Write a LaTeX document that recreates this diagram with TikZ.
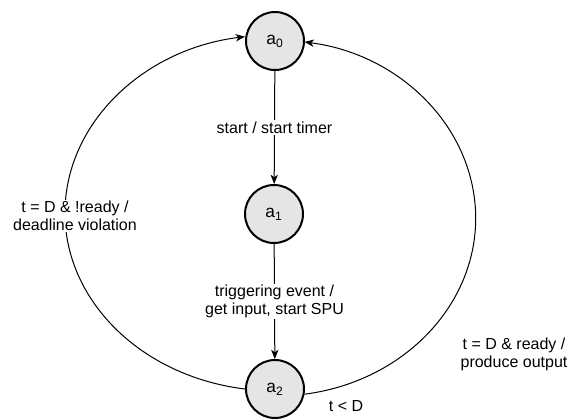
\documentclass[tikz,border=0pt]{standalone}
\usepackage{fontspec}
\setmainfont{Liberation Sans}
\usetikzlibrary{arrows.meta}
\begin{document}
\begin{tikzpicture}[x=0.75pt,y=-0.75pt,
  state/.style={circle,draw=black,line width=1.5pt,fill=black!10,minimum size=43.5pt,inner sep=0pt,font=\fontsize{13}{15}\selectfont},
  edge/.style={line width=0.75pt,-{Stealth[length=7pt,width=5.5pt,inset=2pt]}},
  lbl/.style={font=\fontsize{12}{13.5}\selectfont,align=center,inner sep=1pt},
  lblw/.style={lbl,fill=white}]
\useasboundingbox (0,0) rectangle (568,418);
\node[state] (a0) at (275,41) {a\textsubscript{0}};
\node[state] (a1) at (274,214) {a\textsubscript{1}};
\node[state] (a2) at (275,389) {a\textsubscript{2}};
\draw[edge] (a0) -- node[lblw] (l01) {start / start timer} (a1);
\draw[edge] (a1) -- node[lblw] (l12) {triggering event /\\get input, start SPU} (a2);
\draw[edge] (a2.west) arc[start angle=261.8, end angle=98.2, x radius=157.5pt, y radius=133.5pt];
\node[lblw] (l20v) at (75,216) {t = D \& !ready /\\deadline violation};
\draw[edge] (a2.-10) arc[start angle=-81.7, end angle=81.7, x radius=150pt, y radius=133.5pt];
\node[lbl] (l20r) at (514,354) {t = D \& ready /\\produce output};
\node[lbl] (l22) at (346,406) {t < D};
\end{tikzpicture}
\end{document}
